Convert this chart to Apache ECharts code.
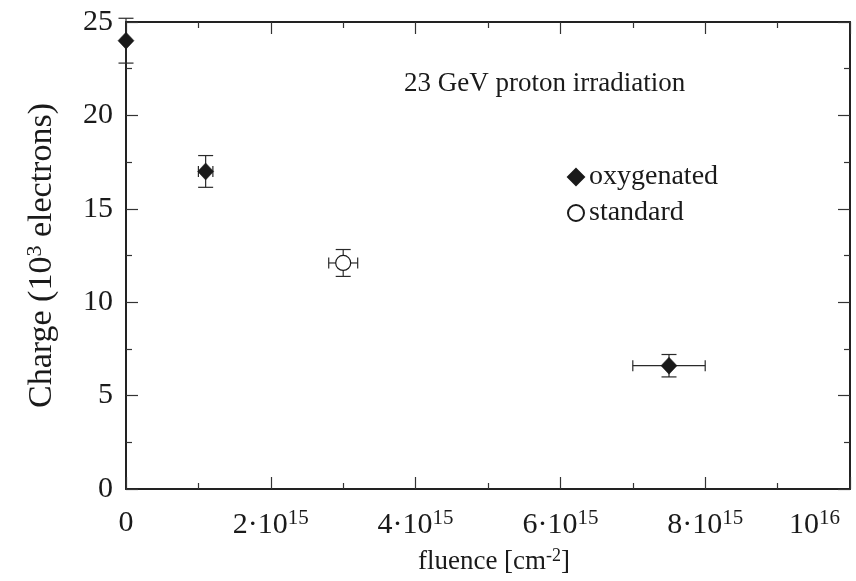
<!DOCTYPE html>
<html>
<head>
<meta charset="utf-8">
<script src="https://cdn.jsdelivr.net/npm/echarts@6/dist/echarts.min.js"></script>
<style>
  html, body { margin: 0; padding: 0; background: #fff; }
  #chart { width: 856px; height: 581px; }
</style>
</head>
<body>
<div id="chart"></div>
<script>
// Collected charge vs. fluence for oxygenated and standard silicon detectors
const oxyFluence = [0, 1.1e15, 7.5e15];
const oxyCharge = [24.0, 17.0, 6.6];
const oxyFluenceErr = [0, 0.1e15, 0.5e15];
const oxyChargeErr = [1.2, 0.85, 0.6];

const stdFluence = [3.0e15];
const stdCharge = [12.1];
const stdFluenceErr = [0.2e15];
const stdChargeErr = [0.72];

const xTicks = [0, 2e15, 4e15, 6e15, 8e15, 1e16];
const yTicks = [0, 5, 10, 15, 20, 25];

const FONT = '"Liberation Serif", "DejaVu Serif", serif';
const INK = '#1a1a1a';

function pts(xs, ys) { return xs.map((x, i) => [x, ys[i]]); }
function errRows(xs, ys, exs, eys) { return xs.map((x, i) => [x, ys[i], exs[i], eys[i]]); }

function fmtX(v) {
  if (!xTicks.includes(v)) return '';
  if (v === 0) return '0';
  if (v === 1e16) return '{base|10}{sup|16}{gap|}';
  const m = Math.round(v / 1e15);
  return m + '·10{sup|15}';
}

// draws the vertical and horizontal error bars with end caps
function renderErr(params, api) {
  const x = api.value(0), y = api.value(1), ex = api.value(2), ey = api.value(3);
  const style = { stroke: '#2a2a2a', lineWidth: 1.2, fill: null };
  const kids = [];
  const top = api.coord([x, y + ey]);
  const bot = api.coord([x, y - ey]);
  const capW = 7.5;
  kids.push({ type: 'line', shape: { x1: top[0], y1: top[1], x2: bot[0], y2: bot[1] }, style });
  kids.push({ type: 'line', shape: { x1: top[0] - capW, y1: top[1], x2: top[0] + capW, y2: top[1] }, style });
  kids.push({ type: 'line', shape: { x1: bot[0] - capW, y1: bot[1], x2: bot[0] + capW, y2: bot[1] }, style });
  if (ex > 0) {
    const l = api.coord([x - ex, y]);
    const r = api.coord([x + ex, y]);
    const capH = 5.5;
    kids.push({ type: 'line', shape: { x1: l[0], y1: l[1], x2: r[0], y2: r[1] }, style });
    kids.push({ type: 'line', shape: { x1: l[0], y1: l[1] - capH, x2: l[0], y2: l[1] + capH }, style });
    kids.push({ type: 'line', shape: { x1: r[0], y1: r[1] - capH, x2: r[0], y2: r[1] + capH }, style });
  }
  return { type: 'group', children: kids };
}

const axisLineStyle = { color: '#222', width: 2 };
const tickStyle = { color: '#333', width: 1.2 };
const supStyle = { fontFamily: FONT, fontSize: 21, color: INK, padding: [0, 0, 14, 0] };

const chart = echarts.init(document.getElementById('chart'), null, { renderer: 'canvas' });

chart.setOption({
  backgroundColor: '#fff',
  animation: false,
  grid: { left: 126, right: 6, top: 22, bottom: 92, containLabel: false, outerBoundsMode: 'none' },
  title: {
    text: '23 GeV proton irradiation',
    left: 399, top: 65,
    textStyle: { fontFamily: FONT, fontSize: 27, fontWeight: 'normal', color: INK }
  },
  legend: {
    orient: 'vertical',
    left: 562, top: 158,
    itemWidth: 16, itemHeight: 16,
    itemGap: 8,
    textStyle: { fontFamily: FONT, fontSize: 28, color: INK },
    data: [
      { name: 'oxygenated', icon: 'diamond' },
      { name: 'standard', icon: 'circle' }
    ]
  },
  xAxis: [
    {
      type: 'value', position: 'bottom',
      min: 0, max: 1e16, interval: 2e15,
      name: 'fluence [cm{sup|-2}]',
      nameLocation: 'middle', nameGap: 58,
      nameTextStyle: {
        fontFamily: FONT, fontSize: 27, color: INK, padding: [0, 0, 0, 12],
        rich: { sup: { fontFamily: FONT, fontSize: 18, color: INK, padding: [0, 0, 12, 0] } }
      },
      axisLine: { show: true, onZero: false, lineStyle: axisLineStyle },
      axisTick: { show: true, inside: true, length: 12, lineStyle: tickStyle },
      minorTick: { show: true, splitNumber: 2, length: 6, lineStyle: tickStyle },
      splitLine: { show: false },
      axisLabel: {
        margin: 19,
        formatter: fmtX,
        fontFamily: FONT, fontSize: 30, color: INK,
        alignMaxLabel: 'right',
        rich: {
          base: { fontFamily: FONT, fontSize: 30, color: INK },
          sup: supStyle,
          gap: { width: 10 }
        }
      }
    },
    {
      type: 'value', position: 'top',
      min: 0, max: 1e16, interval: 2e15,
      axisLine: { show: true, onZero: false, lineStyle: axisLineStyle },
      axisTick: { show: true, inside: true, length: 12, lineStyle: tickStyle },
      minorTick: { show: true, splitNumber: 2, length: 6, lineStyle: tickStyle },
      splitLine: { show: false },
      axisLabel: { show: false }
    }
  ],
  yAxis: [
    {
      type: 'value', position: 'left',
      min: 0, max: 25, interval: 5,
      name: 'Charge (10{sup|3} electrons)',
      nameLocation: 'middle', nameGap: 66, nameRotate: 90,
      nameTextStyle: {
        fontFamily: FONT, fontSize: 34, color: INK,
        rich: { sup: { fontFamily: FONT, fontSize: 22, color: INK, padding: [0, 0, 14, 0] } }
      },
      axisLine: { show: true, onZero: false, lineStyle: axisLineStyle },
      axisTick: { show: true, inside: true, length: 12, lineStyle: tickStyle },
      minorTick: { show: true, splitNumber: 2, length: 6, lineStyle: tickStyle },
      splitLine: { show: false },
      axisLabel: {
        margin: 13,
        fontFamily: FONT, fontSize: 30, color: INK,
        formatter: v => (yTicks.includes(v) ? String(v) : '')
      }
    },
    {
      type: 'value', position: 'right',
      min: 0, max: 25, interval: 5,
      axisLine: { show: true, onZero: false, lineStyle: axisLineStyle },
      axisTick: { show: true, inside: true, length: 12, lineStyle: tickStyle },
      minorTick: { show: true, splitNumber: 2, length: 6, lineStyle: tickStyle },
      splitLine: { show: false },
      axisLabel: { show: false }
    }
  ],
  series: [
    {
      name: 'oxygenated-err', type: 'custom',
      xAxisIndex: 0, yAxisIndex: 0,
      renderItem: renderErr, clip: false, z: 3,
      encode: { x: 0, y: 1 },
      data: errRows(oxyFluence, oxyCharge, oxyFluenceErr, oxyChargeErr)
    },
    {
      name: 'standard-err', type: 'custom',
      xAxisIndex: 0, yAxisIndex: 0,
      renderItem: renderErr, clip: false, z: 3,
      encode: { x: 0, y: 1 },
      data: errRows(stdFluence, stdCharge, stdFluenceErr, stdChargeErr)
    },
    {
      name: 'oxygenated', type: 'scatter',
      xAxisIndex: 0, yAxisIndex: 0,
      symbol: 'diamond', symbolSize: [16, 17], clip: false, z: 5,
      itemStyle: { color: INK, borderColor: INK, borderWidth: 0.5, opacity: 1 },
      data: pts(oxyFluence, oxyCharge)
    },
    {
      name: 'standard', type: 'scatter',
      xAxisIndex: 0, yAxisIndex: 0,
      symbol: 'circle', symbolSize: 15, clip: false, z: 5,
      itemStyle: { color: '#fff', borderColor: INK, borderWidth: 1.2, opacity: 1 },
      data: pts(stdFluence, stdCharge)
    }
  ]
});
</script>
</body>
</html>
